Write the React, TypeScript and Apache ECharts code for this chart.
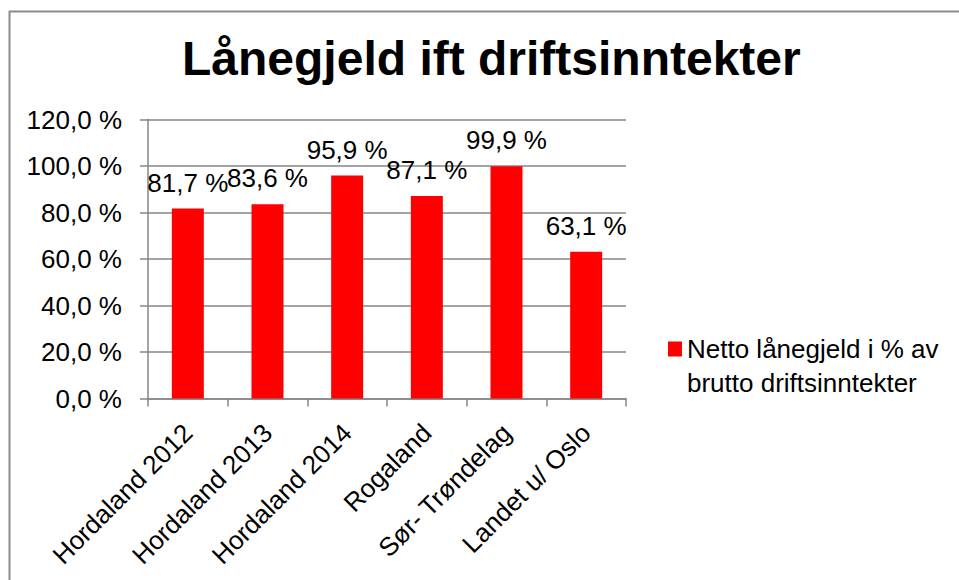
import React, { useEffect, useRef } from "react";
import * as echarts from "echarts";

const categories = [
  "Hordaland 2012",
  "Hordaland 2013",
  "Hordaland 2014",
  "Rogaland",
  "Sør- Trøndelag",
  "Landet u/ Oslo",
];
const values = [81.7, 83.6, 95.9, 87.1, 99.9, 63.1];
const seriesName = "Netto lånegjeld i % av brutto driftsinntekter";
const titleText = "Lånegjeld ift driftsinntekter";

const FONT = "'Liberation Sans', Arial, sans-serif";
const fmt = (v: number) => v.toFixed(1).replace(".", ",") + " %";

export default function App() {
  const ref = useRef<HTMLDivElement>(null);
  useEffect(() => {
    if (!ref.current) return;
    const chart = echarts.init(ref.current, undefined, { renderer: "svg" });
    chart.setOption({
      animation: false,
      backgroundColor: "#ffffff",
      textStyle: { fontFamily: FONT },
      title: {
        text: titleText,
        left: 182,
        top: 34,
        padding: 0,
        textStyle: { fontFamily: FONT, fontSize: 48, fontWeight: "bold", color: "#000" },
      },
      grid: { left: 148, right: 333, top: 119.5, bottom: 181.5, containLabel: false },
      legend: {
        left: 663,
        top: 327,
        orient: "vertical",
        itemWidth: 14,
        itemHeight: 49,
        icon: "path://M0 0H14V15H0Z M0 48.99H0.01V49H0Z",
        data: [seriesName],
        formatter: () => "Netto lånegjeld i % av\nbrutto driftsinntekter",
        textStyle: {
          fontFamily: FONT,
          fontSize: 26,
          color: "#000",
          lineHeight: 34,
        },
      },
      xAxis: {
        type: "category",
        data: categories,
        axisLine: { show: true, lineStyle: { color: "#868686", width: 1.5 } },
        axisTick: { show: true, length: 8, lineStyle: { color: "#868686", width: 1.5 } },
        axisLabel: {
          rotate: 45,
          margin: 30,
          fontFamily: FONT,
          fontSize: 26,
          color: "#000",
          interval: 0,
        },
      },
      yAxis: {
        type: "value",
        min: 0,
        max: 120,
        interval: 20,
        axisLine: { show: true, lineStyle: { color: "#868686", width: 1.5 } },
        axisTick: { show: true, length: 8, lineStyle: { color: "#868686", width: 1.5 } },
        splitLine: { show: true, lineStyle: { color: "#868686", width: 1.5 } },
        axisLabel: {
          margin: 26,
          fontFamily: FONT,
          fontSize: 26,
          color: "#000",
          formatter: (v: number) => fmt(v),
        },
      },
      series: [
        {
          name: seriesName,
          type: "bar",
          data: values,
          barWidth: 32,
          itemStyle: { color: "#ff0000" },
          label: {
            show: true,
            position: "top",
            distance: 13,
            fontFamily: FONT,
            fontSize: 26,
            color: "#000",
            formatter: (p: any) => fmt(p.value),
          },
        },
      ],
      graphic: [
        {
          type: "line",
          shape: { x1: 9, y1: 11.5, x2: 959, y2: 11.5 },
          style: { stroke: "#8c8c8c", lineWidth: 2 },
        },
        {
          type: "line",
          shape: { x1: 9.5, y1: 11, x2: 9.5, y2: 580 },
          style: { stroke: "#8c8c8c", lineWidth: 2 },
        },
      ],
    });
    return () => chart.dispose();
  }, []);
  return (
    <div
      ref={ref}
      style={{ position: "fixed", left: 0, top: 0, width: 959, height: 580 }}
    />
  );
}
